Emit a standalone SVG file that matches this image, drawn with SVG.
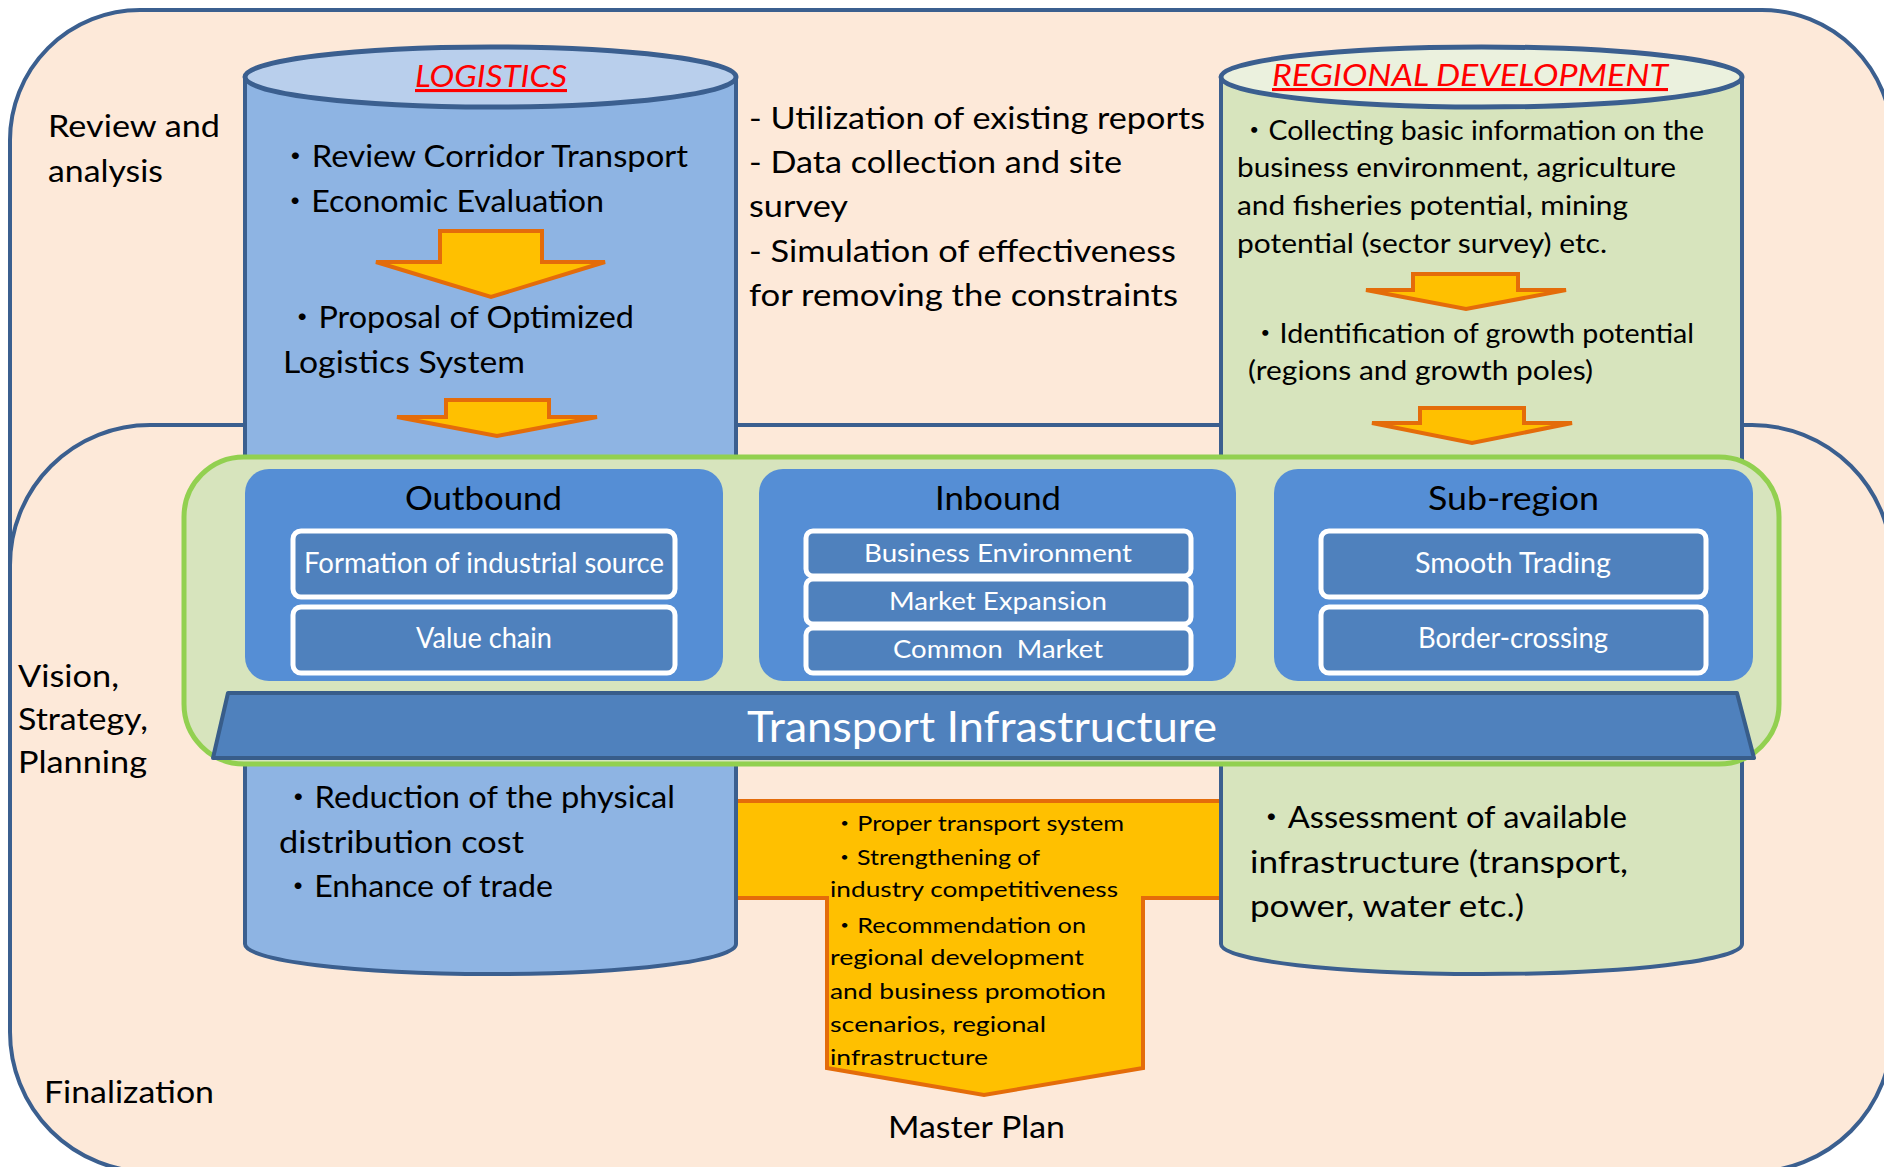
<svg xmlns="http://www.w3.org/2000/svg" width="1884" height="1167" viewBox="0 0 1884 1167">
<defs>
<style>
.frame{fill:#FDE9D9;stroke:#3B5F8F;stroke-width:4}
.cylB{fill:#8EB4E3;stroke:#3B5F8F;stroke-width:4}
.capB{fill:#B9CFEC;stroke:#3B5F8F;stroke-width:5}
.cylG{fill:#D7E4BD;stroke:#3B5F8F;stroke-width:4}
.capG{fill:#EBF1DE;stroke:#3B5F8F;stroke-width:5}
.arr{fill:#FFC000;stroke:#E46C0A;stroke-width:4;stroke-linejoin:miter}
.panel{fill:#558ED5}
.box{fill:#4F81BD;stroke:#FFFFFF;stroke-width:5}
.trap{fill:#4F81BD;stroke:#385D8A;stroke-width:4;stroke-linejoin:round}
.green{fill:#D7E4BD;stroke:#92D050;stroke-width:5}
text{font-family:Lato,'Noto Sans CJK JP',sans-serif;fill:#000000}
.L{font-size:31px}
.M{font-size:27px}
.S{font-size:22px}
.T{font-size:32px}
.W{fill:#FFFFFF;font-size:28px}
.W2{fill:#FFFFFF;font-size:25px}
.H{fill:#FF0000;font-size:31px;font-style:italic;text-decoration:underline}
</style>
</defs>

<g id="stage-review">
<rect class="frame" x="10" y="10" width="1882" height="700" rx="130" ry="130"/>
</g>
<g id="stage-vision">
<rect class="frame" x="10" y="425" width="1882" height="747" rx="140" ry="140"/>
</g>

<g id="master-plan">
<polygon class="arr" points="700,801 1260,801 1260,898 1143,898 1143,1068 984,1095 827,1068 827,898 700,898"/>
</g>

<g id="logistics">
<path class="cylB" d="M245,77 L245,944 A245.5,30 0 0 0 736,944 L736,77 Z"/>
<ellipse class="capB" cx="490.5" cy="77" rx="245.5" ry="30"/>
</g>

<g id="regional">
<path class="cylG" d="M1221,77 L1221,944 A260.5,30 0 0 0 1742,944 L1742,77 Z"/>
<ellipse class="capG" cx="1481.5" cy="77" rx="260.5" ry="30"/>
</g>

<g id="connectors">
<polygon class="arr" points="440,231 542,231 542,262 605,262 491,297 376,262 440,262"/>
<polygon class="arr" points="446,400 549,400 549,417 597,417 497,436 397,417 446,417"/>
<polygon class="arr" points="1413,274 1518,274 1518,290 1566,290 1466,309 1366,290 1413,290"/>
<polygon class="arr" points="1420,408 1524,408 1524,423 1572,423 1472,443 1372,423 1420,423"/>
</g>

<g id="strategy-frame">
<rect class="green" x="184" y="457" width="1595" height="307" rx="60" ry="60"/>
</g>

<g id="outbound">
<rect class="panel" x="245" y="469" width="478" height="212" rx="24" ry="24"/>
<rect class="box" x="293" y="531" width="382" height="66" rx="8" ry="8"/>
<rect class="box" x="293" y="607" width="382" height="66" rx="8" ry="8"/>
</g>
<g id="inbound">
<rect class="panel" x="759" y="469" width="477" height="212" rx="24" ry="24"/>
<rect class="box" x="806" y="531" width="385" height="45" rx="7" ry="7"/>
<rect class="box" x="806" y="579" width="385" height="45" rx="7" ry="7"/>
<rect class="box" x="806" y="628" width="385" height="45" rx="7" ry="7"/>
</g>
<g id="subregion">
<rect class="panel" x="1274" y="469" width="479" height="212" rx="24" ry="24"/>
<rect class="box" x="1321" y="531" width="385" height="66" rx="8" ry="8"/>
<rect class="box" x="1321" y="607" width="385" height="66" rx="8" ry="8"/>
</g>
<g id="transport-infrastructure">
<polygon class="trap" points="228,693 1737,693 1754,758 213,758"/>
</g>

<g id="labels">
<text class="L" x="48" y="137" textLength="172" lengthAdjust="spacingAndGlyphs">Review and</text>
<text class="L" x="48" y="182" textLength="115" lengthAdjust="spacingAndGlyphs">analysis</text>
<text class="L" x="18" y="687" textLength="101" lengthAdjust="spacingAndGlyphs">Vision,</text>
<text class="L" x="18" y="730" textLength="130" lengthAdjust="spacingAndGlyphs">Strategy,</text>
<text class="L" x="18" y="773" textLength="129" lengthAdjust="spacingAndGlyphs">Planning</text>
<text class="L" x="44" y="1103" textLength="170" lengthAdjust="spacingAndGlyphs">Finalization</text>

<text class="H" x="415" y="87" textLength="152" lengthAdjust="spacingAndGlyphs">LOGISTICS</text>
<text class="L" x="279" y="167" textLength="409" lengthAdjust="spacingAndGlyphs">・Review Corridor Transport</text>
<text class="L" x="279" y="212" textLength="325" lengthAdjust="spacingAndGlyphs">・Economic Evaluation</text>
<text class="L" x="286" y="328" textLength="348" lengthAdjust="spacingAndGlyphs">・Proposal of Optimized</text>
<text class="L" x="283" y="373" textLength="242" lengthAdjust="spacingAndGlyphs">Logistics System</text>

<text class="L" x="749" y="129" textLength="456" lengthAdjust="spacingAndGlyphs">- Utilization of existing reports</text>
<text class="L" x="749" y="173" textLength="373" lengthAdjust="spacingAndGlyphs">- Data collection and site</text>
<text class="L" x="749" y="217" textLength="99" lengthAdjust="spacingAndGlyphs">survey</text>
<text class="L" x="749" y="262" textLength="427" lengthAdjust="spacingAndGlyphs">- Simulation of effectiveness</text>
<text class="L" x="749" y="306" textLength="429" lengthAdjust="spacingAndGlyphs">for removing the constraints</text>

<text class="H" x="1272" y="86" textLength="396" lengthAdjust="spacingAndGlyphs">REGIONAL DEVELOPMENT</text>
<text class="M" x="1240" y="140" textLength="464" lengthAdjust="spacingAndGlyphs">・Collecting basic information on the</text>
<text class="M" x="1237" y="177" textLength="439" lengthAdjust="spacingAndGlyphs">business environment, agriculture</text>
<text class="M" x="1237" y="215" textLength="391" lengthAdjust="spacingAndGlyphs">and fisheries potential, mining</text>
<text class="M" x="1237" y="253" textLength="370" lengthAdjust="spacingAndGlyphs">potential (sector survey) etc.</text>
<text class="M" x="1251" y="343" textLength="443" lengthAdjust="spacingAndGlyphs">・Identification of growth potential</text>
<text class="M" x="1248" y="380" textLength="345" lengthAdjust="spacingAndGlyphs">(regions and growth poles)</text>

<text class="T" x="405" y="510" textLength="157" lengthAdjust="spacingAndGlyphs">Outbound</text>
<text class="T" x="935" y="510" textLength="126" lengthAdjust="spacingAndGlyphs">Inbound</text>
<text class="T" x="1428" y="510" textLength="171" lengthAdjust="spacingAndGlyphs">Sub-region</text>

<text class="W" x="304" y="573" textLength="360" lengthAdjust="spacingAndGlyphs">Formation of industrial source</text>
<text class="W" x="416" y="648" textLength="136" lengthAdjust="spacingAndGlyphs">Value chain</text>
<text class="W2" x="864" y="562" textLength="268" lengthAdjust="spacingAndGlyphs">Business Environment</text>
<text class="W2" x="889" y="610" textLength="218" lengthAdjust="spacingAndGlyphs">Market Expansion</text>
<text class="W2" x="893" y="658" textLength="210" lengthAdjust="spacingAndGlyphs" style="white-space:pre">Common  Market</text>
<text class="W" x="1415" y="573" textLength="196" lengthAdjust="spacingAndGlyphs">Smooth Trading</text>
<text class="W" x="1418" y="648" textLength="190" lengthAdjust="spacingAndGlyphs">Border-crossing</text>

<text x="747" y="742" style="fill:#FFFFFF;font-size:42px" textLength="470" lengthAdjust="spacingAndGlyphs">Transport Infrastructure</text>

<text class="L" x="282" y="808" textLength="393" lengthAdjust="spacingAndGlyphs">・Reduction of the physical</text>
<text class="L" x="279" y="853" textLength="245" lengthAdjust="spacingAndGlyphs">distribution cost</text>
<text class="L" x="282" y="897" textLength="271" lengthAdjust="spacingAndGlyphs">・Enhance of trade</text>

<text class="S" x="832" y="831" textLength="292" lengthAdjust="spacingAndGlyphs">・Proper transport system</text>
<text class="S" x="832" y="865" textLength="208" lengthAdjust="spacingAndGlyphs">・Strengthening of</text>
<text class="S" x="830" y="897" textLength="288" lengthAdjust="spacingAndGlyphs">industry competitiveness</text>
<text class="S" x="832" y="933" textLength="254" lengthAdjust="spacingAndGlyphs">・Recommendation on</text>
<text class="S" x="830" y="965" textLength="254" lengthAdjust="spacingAndGlyphs">regional development</text>
<text class="S" x="830" y="999" textLength="276" lengthAdjust="spacingAndGlyphs">and business promotion</text>
<text class="S" x="830" y="1032" textLength="216" lengthAdjust="spacingAndGlyphs">scenarios, regional</text>
<text class="S" x="830" y="1065" textLength="158" lengthAdjust="spacingAndGlyphs">infrastructure</text>

<text class="L" x="888" y="1138" textLength="177" lengthAdjust="spacingAndGlyphs">Master Plan</text>

<text class="L" x="1255" y="828" textLength="372" lengthAdjust="spacingAndGlyphs">・Assessment of available</text>
<text class="L" x="1250" y="873" textLength="378" lengthAdjust="spacingAndGlyphs">infrastructure (transport,</text>
<text class="L" x="1250" y="917" textLength="274" lengthAdjust="spacingAndGlyphs">power, water etc.)</text>
</g>
</svg>
